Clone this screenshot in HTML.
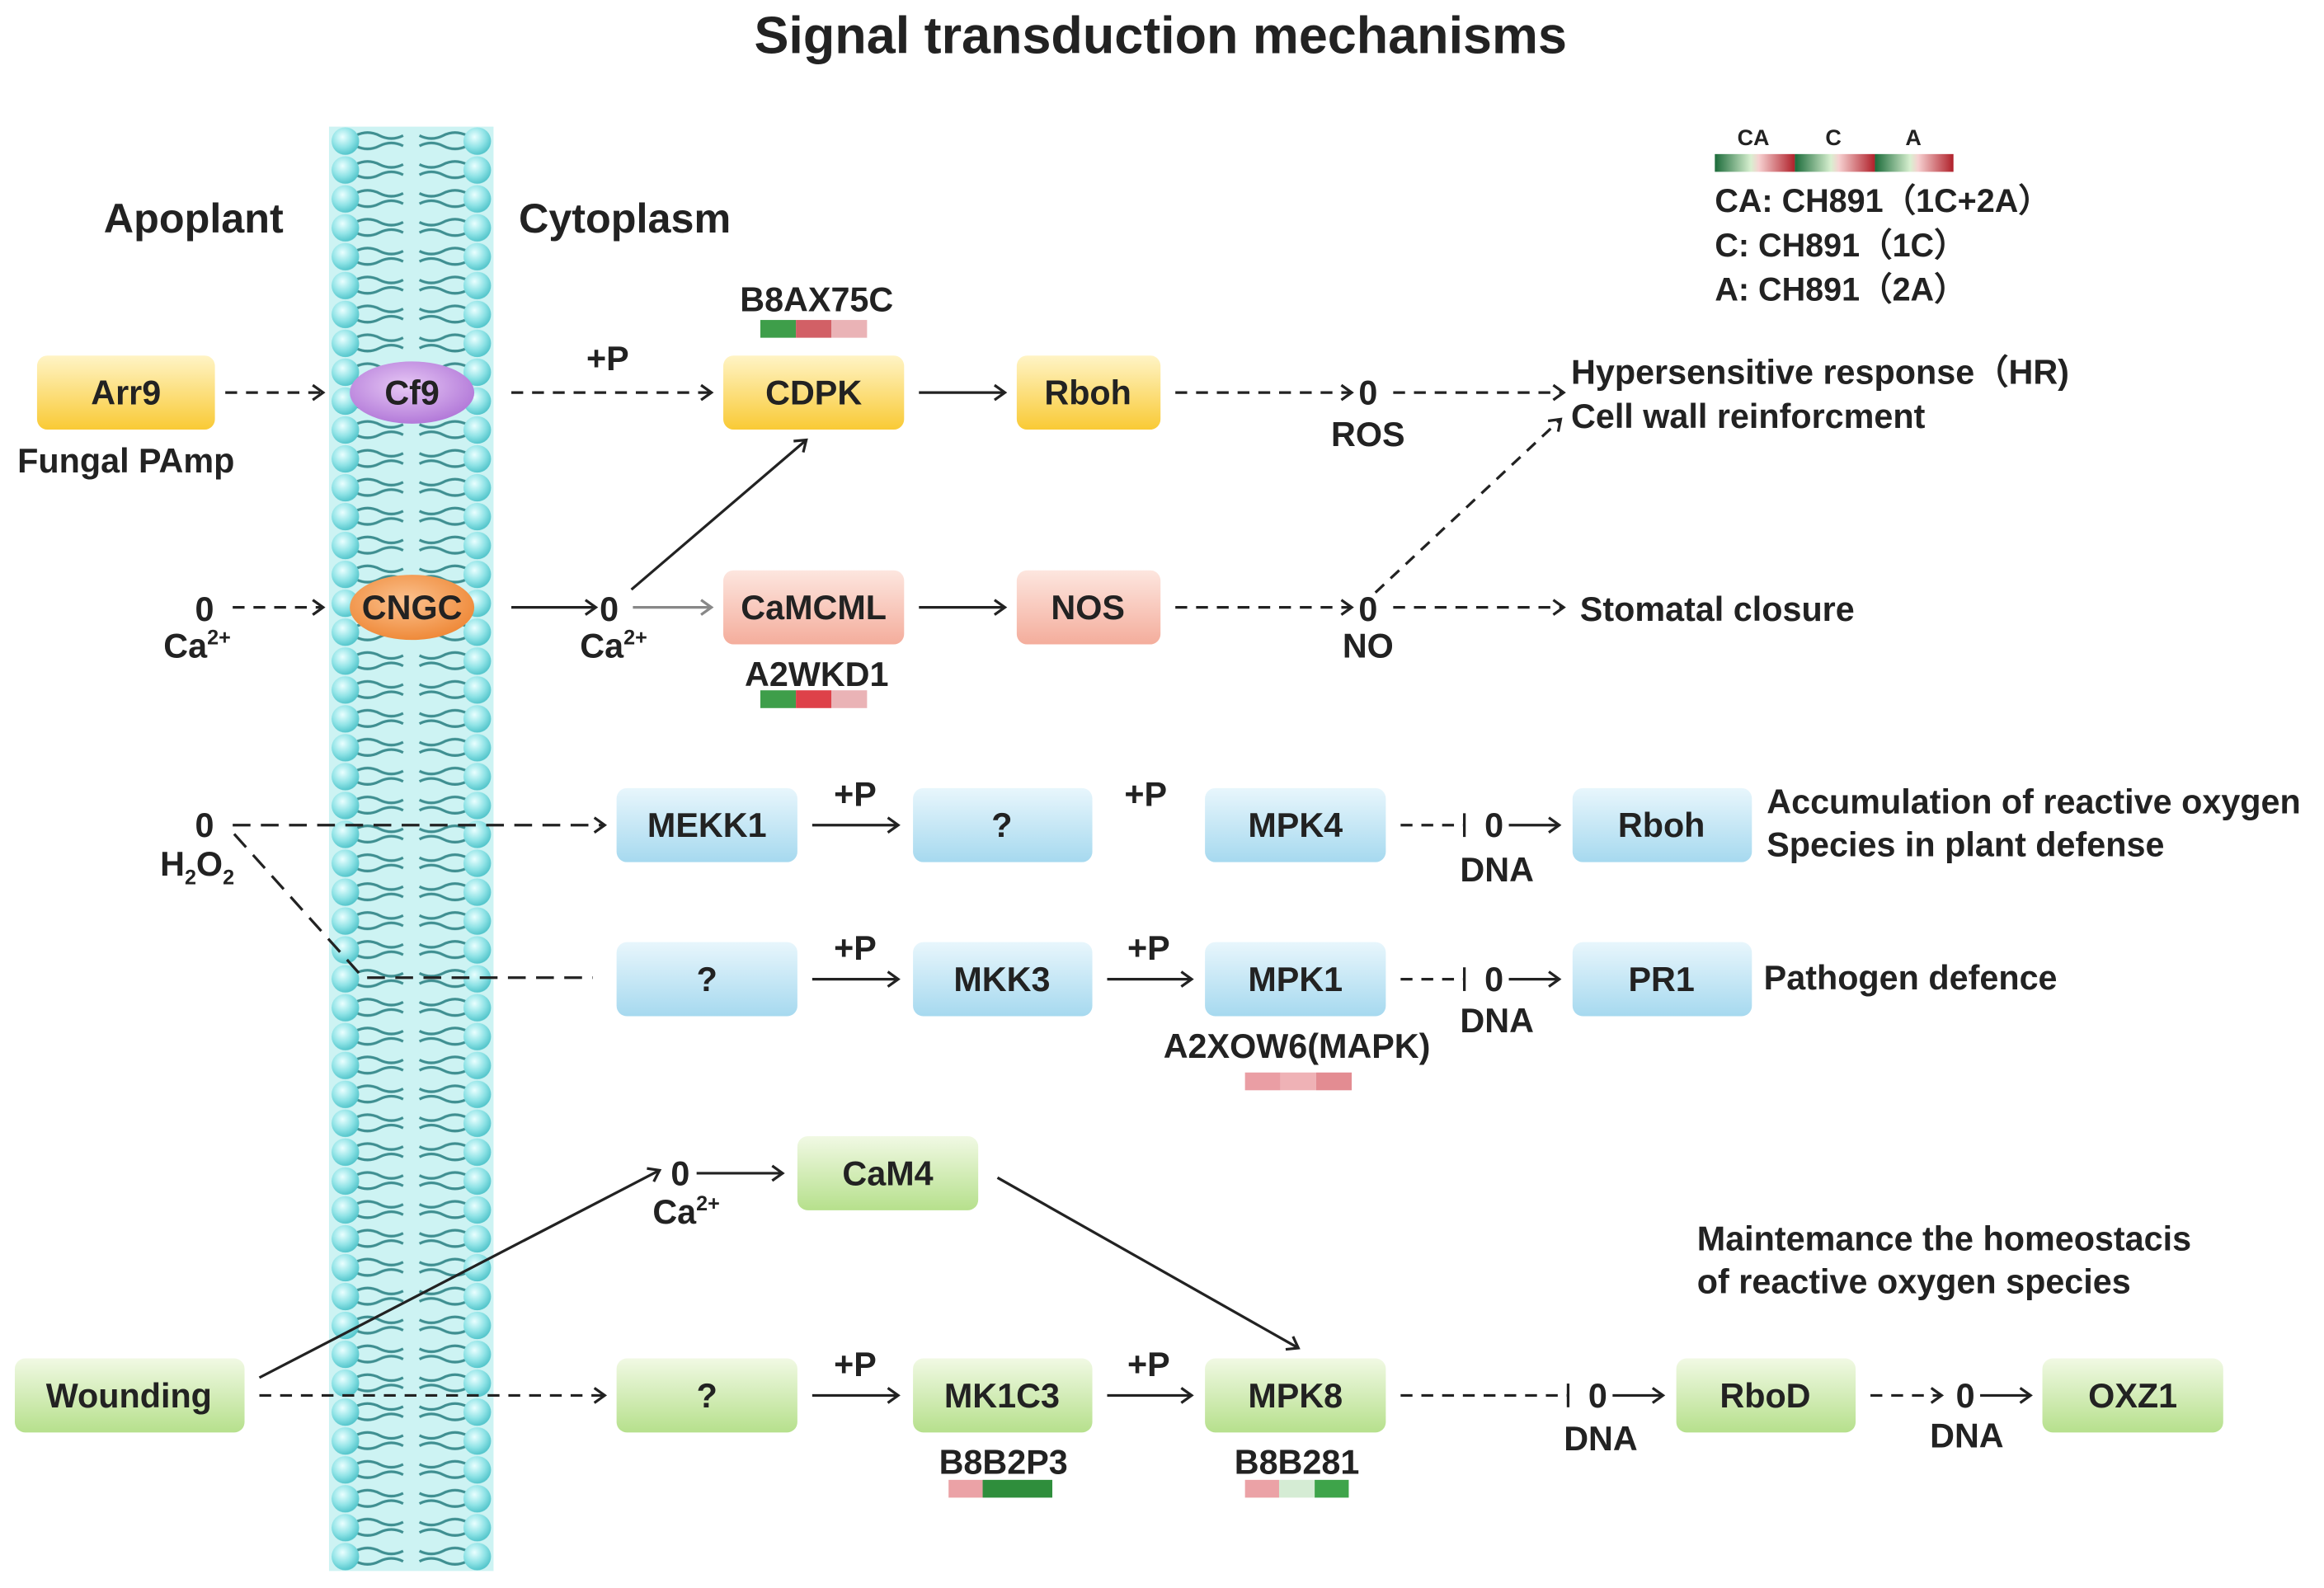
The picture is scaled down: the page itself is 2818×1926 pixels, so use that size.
<!DOCTYPE html>
<html><head><meta charset="utf-8"><style>
html,body{margin:0;padding:0;background:#fff;}
svg{display:block;}
text{font-family:"Liberation Sans",Arial,sans-serif;font-weight:bold;fill:#222;}
</style></head><body>
<svg width="2818" height="1926" viewBox="0 0 1568 1072" preserveAspectRatio="none" xmlns="http://www.w3.org/2000/svg">
<defs>
<radialGradient id="ball" cx="40%" cy="35%" r="65%"><stop offset="0" stop-color="#eaffff"/><stop offset="0.6" stop-color="#8fe3e6"/><stop offset="1" stop-color="#55c6cc"/></radialGradient>
<pattern id="mem" patternUnits="userSpaceOnUse" x="222" y="85.5" width="111" height="19.5">
<rect width="111" height="19.5" fill="#cdf3f3"/>
<path d="M18 6 q8 -4 16 0 t16 0 M18 13 q8 4 16 0 t16 0 M93 6 q-8 -4 -16 0 t-16 0 M93 13 q-8 4 -16 0 t-16 0" stroke="#3f8f91" stroke-width="1.8" fill="none"/>
<circle cx="11" cy="9.75" r="9.3" fill="url(#ball)"/>
<circle cx="100" cy="9.75" r="9.3" fill="url(#ball)"/>
</pattern>
<linearGradient id="gy" x1="0" y1="0" x2="0" y2="1"><stop offset="0" stop-color="#fff4c6"/><stop offset="1" stop-color="#f9ca35"/></linearGradient>
<linearGradient id="gp" x1="0" y1="0" x2="0" y2="1"><stop offset="0" stop-color="#fde6df"/><stop offset="1" stop-color="#f4ad9c"/></linearGradient>
<linearGradient id="gb" x1="0" y1="0" x2="0" y2="1"><stop offset="0" stop-color="#e8f6fc"/><stop offset="1" stop-color="#a6d9ef"/></linearGradient>
<linearGradient id="gg" x1="0" y1="0" x2="0" y2="1"><stop offset="0" stop-color="#f1f9e4"/><stop offset="1" stop-color="#b6e08c"/></linearGradient>
<radialGradient id="gpu" cx="45%" cy="40%" r="60%"><stop offset="0" stop-color="#e7c8f5"/><stop offset="1" stop-color="#b37ad9"/></radialGradient>
<radialGradient id="gor" cx="45%" cy="40%" r="60%"><stop offset="0" stop-color="#fbc28f"/><stop offset="1" stop-color="#ef8a3a"/></radialGradient>
<linearGradient id="seg" x1="0" y1="0" x2="1" y2="0"><stop offset="0" stop-color="#1b6b3a"/><stop offset="0.45" stop-color="#d8f0d0"/><stop offset="0.55" stop-color="#f6d0d0"/><stop offset="1" stop-color="#b0202a"/></linearGradient>
<marker id="ah" markerWidth="12" markerHeight="12" refX="10" refY="6" orient="auto" markerUnits="userSpaceOnUse"><path d="M3 1 L10 6 L3 11" fill="none" stroke="#222" stroke-width="1.8"/></marker>
<marker id="ahg" markerWidth="12" markerHeight="12" refX="10" refY="6" orient="auto" markerUnits="userSpaceOnUse"><path d="M3 1 L10 6 L3 11" fill="none" stroke="#888" stroke-width="1.8"/></marker>
</defs>

<text x="783" y="36" font-size="35" text-anchor="middle">Signal transduction mechanisms</text>

<rect x="222" y="85.5" width="111" height="975" fill="url(#mem)"/>
<text x="70" y="157" font-size="28">Apoplant</text>
<text x="350" y="157" font-size="28">Cytoplasm</text>

<text x="1183" y="98" font-size="15" text-anchor="middle">CA</text>
<text x="1237" y="98" font-size="15" text-anchor="middle">C</text>
<text x="1291" y="98" font-size="15" text-anchor="middle">A</text>
<rect x="1157" y="104" width="54" height="12" fill="url(#seg)"/>
<rect x="1211" y="104" width="54" height="12" fill="url(#seg)"/>
<rect x="1265" y="104" width="53" height="12" fill="url(#seg)"/>
<text x="1157" y="143" font-size="22">CA: CH891（1C+2A）</text>
<text x="1157" y="173" font-size="22">C: CH891（1C）</text>
<text x="1157" y="203" font-size="22">A: CH891（2A）</text>

<g stroke="#222" stroke-width="1.8" fill="none">
<line x1="152" y1="265" x2="218" y2="265" stroke-dasharray="8 6" marker-end="url(#ah)"/>
<line x1="345" y1="265" x2="480" y2="265" stroke-dasharray="8 6" marker-end="url(#ah)"/>
<line x1="620" y1="265" x2="678" y2="265" marker-end="url(#ah)"/>
<line x1="793" y1="265" x2="912" y2="265" stroke-dasharray="8 6" marker-end="url(#ah)"/>
<line x1="940" y1="265" x2="1055" y2="265" stroke-dasharray="8 6" marker-end="url(#ah)"/>
<line x1="157" y1="410" x2="218" y2="410" stroke-dasharray="8 6" marker-end="url(#ah)"/>
<line x1="345" y1="410" x2="402" y2="410" marker-end="url(#ah)"/>
<line x1="427" y1="410" x2="480" y2="410" stroke="#888" marker-end="url(#ahg)"/>
<line x1="426" y1="398" x2="544" y2="297" marker-end="url(#ah)"/>
<line x1="620" y1="410" x2="678" y2="410" marker-end="url(#ah)"/>
<line x1="793" y1="410" x2="912" y2="410" stroke-dasharray="8 6" marker-end="url(#ah)"/>
<line x1="940" y1="410" x2="1055" y2="410" stroke-dasharray="8 6" marker-end="url(#ah)"/>
<line x1="928" y1="400" x2="1053" y2="283" stroke-dasharray="8 6" marker-end="url(#ah)"/>
<line x1="157" y1="557" x2="408" y2="557" stroke-dasharray="12 7" marker-end="url(#ah)"/>
<polyline points="158,563 245,660 400,660" stroke-dasharray="12 7"/>
<line x1="548" y1="557" x2="606" y2="557" marker-end="url(#ah)"/>
<line x1="945" y1="557" x2="988" y2="557" stroke-dasharray="8 6"/>
<line x1="988" y1="549" x2="988" y2="565"/>
<line x1="1018" y1="557" x2="1052" y2="557" marker-end="url(#ah)"/>
<line x1="548" y1="661" x2="606" y2="661" marker-end="url(#ah)"/>
<line x1="747" y1="661" x2="804" y2="661" marker-end="url(#ah)"/>
<line x1="945" y1="661" x2="988" y2="661" stroke-dasharray="8 6"/>
<line x1="988" y1="653" x2="988" y2="669"/>
<line x1="1018" y1="661" x2="1052" y2="661" marker-end="url(#ah)"/>
<line x1="470" y1="792" x2="528" y2="792" marker-end="url(#ah)"/>
<line x1="175" y1="930" x2="445" y2="790" marker-end="url(#ah)"/>
<line x1="673" y1="795" x2="876" y2="910" marker-end="url(#ah)"/>
<line x1="175" y1="942" x2="408" y2="942" stroke-dasharray="8 6" marker-end="url(#ah)"/>
<line x1="548" y1="942" x2="606" y2="942" marker-end="url(#ah)"/>
<line x1="747" y1="942" x2="804" y2="942" marker-end="url(#ah)"/>
<line x1="945" y1="942" x2="1058" y2="942" stroke-dasharray="8 6"/>
<line x1="1058" y1="934" x2="1058" y2="950"/>
<line x1="1088" y1="942" x2="1122" y2="942" marker-end="url(#ah)"/>
<line x1="1262" y1="942" x2="1310" y2="942" stroke-dasharray="8 6" marker-end="url(#ah)"/>
<line x1="1336" y1="942" x2="1370" y2="942" marker-end="url(#ah)"/>
</g>

<g font-size="23">
<rect x="25" y="240" width="120" height="50" rx="7" fill="url(#gy)"/><text x="85" y="273" text-anchor="middle">Arr9</text>
<ellipse cx="278" cy="265" rx="42" ry="21" fill="url(#gpu)"/><text x="278" y="273" text-anchor="middle">Cf9</text>
<rect x="488" y="240" width="122" height="50" rx="7" fill="url(#gy)"/><text x="549" y="273" text-anchor="middle">CDPK</text>
<rect x="686" y="240" width="97" height="50" rx="7" fill="url(#gy)"/><text x="734" y="273" text-anchor="middle">Rboh</text>
<ellipse cx="278" cy="410" rx="42" ry="22" fill="url(#gor)"/><text x="278" y="418" text-anchor="middle">CNGC</text>
<rect x="488" y="385" width="122" height="50" rx="7" fill="url(#gp)"/><text x="549" y="418" text-anchor="middle">CaMCML</text>
<rect x="686" y="385" width="97" height="50" rx="7" fill="url(#gp)"/><text x="734" y="418" text-anchor="middle">NOS</text>
<rect x="416" y="532" width="122" height="50" rx="7" fill="url(#gb)"/><text x="477" y="565" text-anchor="middle">MEKK1</text>
<rect x="616" y="532" width="121" height="50" rx="7" fill="url(#gb)"/><text x="676" y="565" text-anchor="middle">?</text>
<rect x="813" y="532" width="122" height="50" rx="7" fill="url(#gb)"/><text x="874" y="565" text-anchor="middle">MPK4</text>
<rect x="1061" y="532" width="121" height="50" rx="7" fill="url(#gb)"/><text x="1121" y="565" text-anchor="middle">Rboh</text>
<rect x="416" y="636" width="122" height="50" rx="7" fill="url(#gb)"/><text x="477" y="669" text-anchor="middle">?</text>
<rect x="616" y="636" width="121" height="50" rx="7" fill="url(#gb)"/><text x="676" y="669" text-anchor="middle">MKK3</text>
<rect x="813" y="636" width="122" height="50" rx="7" fill="url(#gb)"/><text x="874" y="669" text-anchor="middle">MPK1</text>
<rect x="1061" y="636" width="121" height="50" rx="7" fill="url(#gb)"/><text x="1121" y="669" text-anchor="middle">PR1</text>
<rect x="538" y="767" width="122" height="50" rx="7" fill="url(#gg)"/><text x="599" y="800" text-anchor="middle">CaM4</text>
<rect x="10" y="917" width="155" height="50" rx="7" fill="url(#gg)"/><text x="87" y="950" text-anchor="middle">Wounding</text>
<rect x="416" y="917" width="122" height="50" rx="7" fill="url(#gg)"/><text x="477" y="950" text-anchor="middle">?</text>
<rect x="616" y="917" width="121" height="50" rx="7" fill="url(#gg)"/><text x="676" y="950" text-anchor="middle">MK1C3</text>
<rect x="813" y="917" width="122" height="50" rx="7" fill="url(#gg)"/><text x="874" y="950" text-anchor="middle">MPK8</text>
<rect x="1131" y="917" width="121" height="50" rx="7" fill="url(#gg)"/><text x="1191" y="950" text-anchor="middle">RboD</text>
<rect x="1378" y="917" width="122" height="50" rx="7" fill="url(#gg)"/><text x="1439" y="950" text-anchor="middle">OXZ1</text>
</g>

<g font-size="23">
<text x="85" y="319" text-anchor="middle">Fungal PAmp</text>
<text x="410" y="250" text-anchor="middle">+P</text>
<text x="923" y="273" text-anchor="middle">0</text>
<text x="923" y="301" text-anchor="middle">ROS</text>
<text x="1060" y="259">Hypersensitive response（HR)</text>
<text x="1060" y="289">Cell wall reinforcment</text>
<text x="138" y="419" text-anchor="middle">0</text>
<text x="133" y="444" text-anchor="middle">Ca<tspan font-size="14" dy="-9">2+</tspan></text>
<text x="411" y="419" text-anchor="middle">0</text>
<text x="414" y="444" text-anchor="middle">Ca<tspan font-size="14" dy="-9">2+</tspan></text>
<text x="923" y="419" text-anchor="middle">0</text>
<text x="923" y="444" text-anchor="middle">NO</text>
<text x="1066" y="419">Stomatal closure</text>
<text x="138" y="565" text-anchor="middle">0</text>
<text x="108" y="591">H<tspan font-size="14" dy="6">2</tspan><tspan dy="-6">O</tspan><tspan font-size="14" dy="6">2</tspan></text>
<text x="577" y="544" text-anchor="middle">+P</text>
<text x="773" y="544" text-anchor="middle">+P</text>
<text x="1008" y="565" text-anchor="middle">0</text>
<text x="1010" y="595" text-anchor="middle">DNA</text>
<text x="1192" y="549">Accumulation of reactive oxygen</text>
<text x="1192" y="578">Species in plant defense</text>
<text x="577" y="648" text-anchor="middle">+P</text>
<text x="775" y="648" text-anchor="middle">+P</text>
<text x="1008" y="669" text-anchor="middle">0</text>
<text x="1010" y="697" text-anchor="middle">DNA</text>
<text x="1190" y="668">Pathogen defence</text>
<text x="459" y="800" text-anchor="middle">0</text>
<text x="463" y="826" text-anchor="middle">Ca<tspan font-size="14" dy="-9">2+</tspan></text>
<text x="1145" y="844">Maintemance the homeostacis</text>
<text x="1145" y="873">of reactive oxygen species</text>
<text x="577" y="929" text-anchor="middle">+P</text>
<text x="775" y="929" text-anchor="middle">+P</text>
<text x="1078" y="950" text-anchor="middle">0</text>
<text x="1080" y="979" text-anchor="middle">DNA</text>
<text x="1326" y="950" text-anchor="middle">0</text>
<text x="1327" y="977" text-anchor="middle">DNA</text>
<text x="551" y="210" text-anchor="middle">B8AX75C</text>
<text x="551" y="463" text-anchor="middle">A2WKD1</text>
<text x="875" y="714" text-anchor="middle">A2XOW6(MAPK)</text>
<text x="677" y="995" text-anchor="middle">B8B2P3</text>
<text x="875" y="995" text-anchor="middle">B8B281</text>
</g>

<rect x="513" y="216" width="24" height="12" fill="#3e9e4a"/><rect x="537" y="216" width="24" height="12" fill="#d26066"/><rect x="561" y="216" width="24" height="12" fill="#eab3b6"/>
<rect x="513" y="466" width="24" height="12" fill="#3e9e4a"/><rect x="537" y="466" width="24" height="12" fill="#de4149"/><rect x="561" y="466" width="24" height="12" fill="#eab3b6"/>
<rect x="840" y="724" width="24" height="12" fill="#ea9ea4"/><rect x="864" y="724" width="24" height="12" fill="#efb2b6"/><rect x="888" y="724" width="24" height="12" fill="#e38c92"/>
<rect x="640" y="999" width="23" height="12" fill="#eba2a6"/><rect x="663" y="999" width="47" height="12" fill="#2f8e3c"/>
<rect x="840" y="999" width="23" height="12" fill="#eba2a6"/><rect x="863" y="999" width="24" height="12" fill="#d5ecd4"/><rect x="887" y="999" width="23" height="12" fill="#3ea44a"/>
</svg>
</body></html>
